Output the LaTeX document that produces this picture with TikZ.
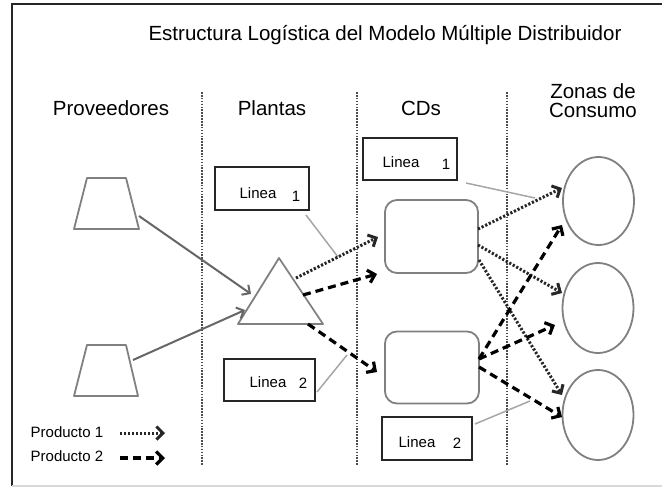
\documentclass[tikz,border=0pt]{standalone}
\usepackage{fontspec}
\setmainfont{Liberation Sans}
\usetikzlibrary{arrows.meta,shapes.geometric}
\begin{document}
\begin{tikzpicture}[x=1pt,y=-1pt,
  every node/.style={inner sep=0pt, outer sep=0pt},
  hdr/.style={font=\fontsize{20.5}{20}\selectfont, anchor=base},
  sep/.style={draw=black!70, line width=2.4pt, dash pattern=on 1.6pt off 1.3pt},
  shapeline/.style={draw=black!50, line width=1.8pt, line join=round},
  cdbox/.style={shapeline, rounded corners=12pt, minimum width=93pt, minimum height=73pt},
  zone/.style={shapeline, ellipse, minimum width=71pt, minimum height=89pt},
  lbox/.style={draw=black!85, line width=2.4pt, fill=white, minimum width=93pt, minimum height=42pt},
  ltext/.style={font=\fontsize{15}{15}\selectfont, anchor=base},
  legtext/.style={font=\fontsize{15}{15}\selectfont, anchor=base},
  leader/.style={draw=black!35, line width=1.5pt},
  feed/.style={draw=black!60, line width=2pt, -{Straight Barb[length=6pt,width=12pt]}},
  prodA/.style={draw=black!85, line width=3pt, dash pattern=on 2.2pt off 1.8pt, -{Straight Barb[length=6.5pt,width=13pt]}},
  prodB/.style={draw=black, line width=3.2pt, dash pattern=on 8pt off 5pt, -{Straight Barb[length=6.5pt,width=13pt]}},
]
\useasboundingbox (0,0) rectangle (662,488);
% frame
\draw[black!85, line width=2pt] (11.5,486) -- (11.5,4) -- (662,4);
\draw[black!15, line width=2pt] (11.5,486) -- (662,486);

% title and headers
\node[hdr] (title) at (385,40) {Estructura Logística del Modelo Múltiple Distribuidor};
\node[hdr] (hprov) at (111,115) {Proveedores};
\node[hdr] (hplan) at (272,115) {Plantas};
\node[hdr] (hcd) at (421,115) {CDs};
\node[hdr] (hzon1) at (593,98) {Zonas de};
\node[hdr] (hzon2) at (593,117) {Consumo};

% separators
\draw[sep] (202,92) -- (202,465);
\draw[sep] (357,92) -- (357,465);
\draw[sep] (507,92) -- (507,465);

% suppliers
\draw[shapeline] (74,229) -- (87,178) -- (126,178) -- (139,229) -- cycle;
\draw[shapeline] (74,396) -- (87,345) -- (126,345) -- (138,396) -- cycle;
\coordinate (s1) at (139,216);
\coordinate (s2) at (133,360);

% plant
\draw[shapeline] (238,324) -- (279,258) -- (323,324) -- cycle;
\coordinate (pin1) at (251,294);
\coordinate (pin2) at (245,310);
\coordinate (pout1) at (296,278);
\coordinate (pout2) at (303,295);
\coordinate (pout3) at (308,324);

% CDs
\node[cdbox] (cd1) at (431.5,236.5) {};
\node[cdbox, minimum width=94pt, minimum height=72pt] (cd2) at (432,367.5) {};
\coordinate (c1in1) at (378,237);
\coordinate (c1in2) at (377,274);
\coordinate (c2in) at (377,372);
\coordinate (c1o1) at (478,229);
\coordinate (c1o2) at (478,245);
\coordinate (c1o3) at (479,260);
\coordinate (c2o1) at (479,359);
\coordinate (c2o3) at (479,367);

% zones
\node[zone, minimum height=88pt] (z1) at (598.5,201) {};
\node[zone, minimum height=90pt] (z2) at (598,308) {};
\node[zone, minimum height=90pt] (z3) at (598,415) {};
\coordinate (z1a) at (562,188);
\coordinate (z1b) at (562,225);
\coordinate (z2a) at (562,293);
\coordinate (z2b) at (555,325);
\coordinate (z3a) at (562,395);
\coordinate (z3b) at (562,417);

% leader lines
\coordinate (lp1a) at (306,215); \coordinate (lp1b) at (338,257);
\coordinate (lc1a) at (466,183); \coordinate (lc1b) at (535,198);
\coordinate (lp2a) at (317,392); \coordinate (lp2b) at (347,355);
\coordinate (lc2a) at (475,424); \coordinate (lc2b) at (530,401);
\draw[leader] (lp1a) -- (lp1b);
\draw[leader] (lc1a) -- (lc1b);
\draw[leader] (lp2a) -- (lp2b);
\draw[leader] (lc2a) -- (lc2b);

% label boxes
\node[lbox, minimum width=94pt, minimum height=43pt] (bp1) at (262,188.5) {};
\node[ltext] (bp1t) at (258,198) {Linea};
\node[ltext] (bp1n) at (296,201) {1};
\node[lbox, minimum width=94pt] (bc1) at (410,159) {};
\node[ltext] (bc1t) at (401,167) {Linea};
\node[ltext] (bc1n) at (446,169) {1};
\node[lbox, minimum width=91pt] (bp2) at (269.5,380) {};
\node[ltext] (bp2t) at (268,387) {Linea};
\node[ltext] (bp2n) at (303,388) {2};
\node[lbox, minimum width=90pt, minimum height=43pt] (bc2) at (427,438.5) {};
\node[ltext] (bc2t) at (417,447) {Linea};
\node[ltext] (bc2n) at (457,448) {2};

% flows
\draw[feed] (s1) -- (pin1);
\draw[feed] (s2) -- (pin2);
\draw[prodA] (pout1) -- (c1in1);
\draw[prodB] (pout2) -- (c1in2);
\draw[prodB] (pout3) -- (c2in);
\draw[prodA] (c1o1) -- (z1a);
\draw[prodA] (c1o2) -- (z2a);
\draw[prodA] (c1o3) -- (z3a);
\draw[prodB] (c2o1) -- (z1b);
\draw[prodB] (c2o1) -- (z2b);
\draw[prodB] (c2o3) -- (z3b);

% legend
\node[legtext] (leg1) at (67,437) {Producto 1};
\node[legtext] (leg2) at (67,461) {Producto 2};
\coordinate (la1) at (120,433); \coordinate (la2) at (165,433);
\coordinate (lb1) at (120,458); \coordinate (lb2) at (165,458);
\draw[prodA] (la1) -- (la2);
\draw[prodB] (lb1) -- (lb2);
\end{tikzpicture}
\end{document}
